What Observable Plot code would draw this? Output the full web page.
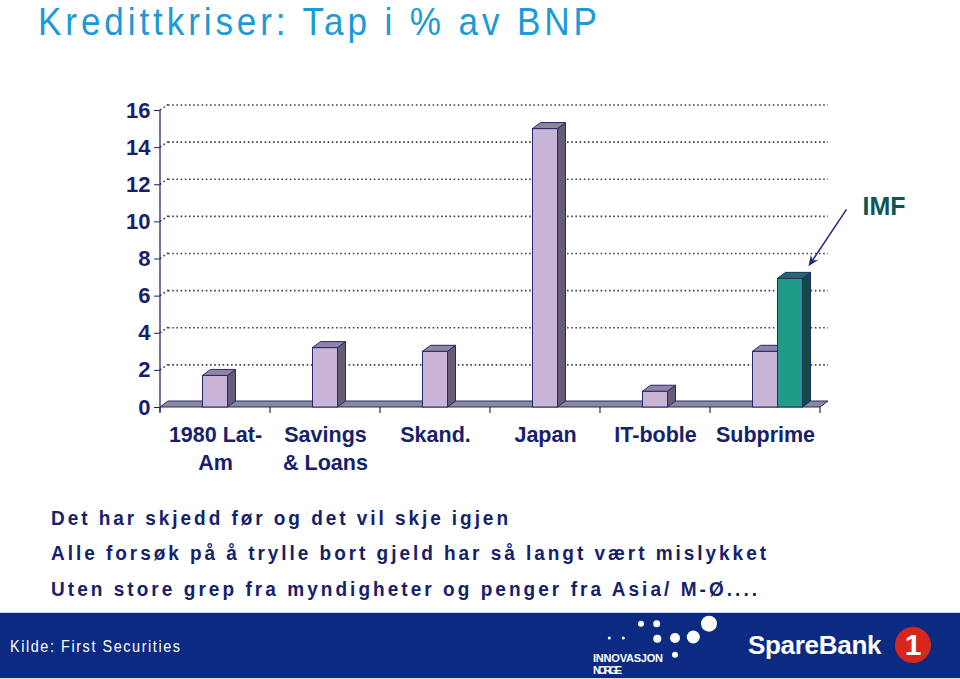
<!DOCTYPE html>
<html><head><meta charset="utf-8">
<script src="https://cdn.jsdelivr.net/npm/d3@7"></script>
<script src="https://cdn.jsdelivr.net/npm/@observablehq/plot@0.6"></script>
<style>
html,body{margin:0;padding:0;background:#fff;}
body{position:relative;width:960px;height:679px;overflow:hidden;font-family:"Liberation Sans",Arial,Helvetica,sans-serif;}
#chart{position:absolute;left:0;top:0;}
.cond{position:absolute;white-space:nowrap;transform-origin:0 50%;}
#title{left:38px;top:0px;font-size:39px;line-height:normal;color:#1a9ad7;}
.note{left:51px;font-size:20px;font-weight:bold;color:#15216c;line-height:24px;}
#footer{position:absolute;left:0;top:612px;width:960px;height:65px;background:#0b2b82;border-top:1px solid #c9d3e6;border-bottom:1px solid #d5dcea;}
#kilde{left:10px;top:24px;color:#fff;font-size:16px;line-height:20px;}
#sb{position:absolute;left:748px;top:17px;color:#fff;font-size:26px;font-weight:bold;line-height:30px;letter-spacing:-0.3px;}
#sb1{position:absolute;left:895px;top:14px;width:36px;height:36px;border-radius:50%;background:#d9261c;color:#fff;font-weight:bold;font-size:30px;line-height:36px;text-align:center;}
</style></head><body>
<div id="chart"></div>
<div id="title" class="cond">Kredittkriser: Tap i % av BNP</div>
<div id="n1" class="cond note" style="top:506px">Det har skjedd før og det vil skje igjen</div>
<div id="n2" class="cond note" style="top:541px">Alle forsøk på å trylle bort gjeld har så langt vært mislykket</div>
<div id="n3" class="cond note" style="top:577px">Uten store grep fra myndigheter og penger fra Asia/ M-Ø....</div>
<div id="footer">
  <div id="kilde" class="cond">Kilde: First Securities</div>
  <svg width="140" height="65" style="position:absolute;left:590px;top:0">
    <g fill="#fff">
      <circle cx="19.3" cy="25" r="1.5"/><circle cx="33.3" cy="25" r="1.5"/>
      <circle cx="51" cy="10.7" r="3"/><circle cx="66.7" cy="10.7" r="3.5"/>
      <circle cx="67.3" cy="25.7" r="4"/><circle cx="85" cy="25" r="5"/>
      <circle cx="103.3" cy="24" r="6.5"/><circle cx="119" cy="10.7" r="8"/>
      <circle cx="85" cy="41.7" r="3"/>
      <text x="3" y="49" font-size="11" font-weight="bold" textLength="70" font-family="Liberation Sans, Arial">INNOVASJON</text>
      <text x="3" y="61" font-size="11" font-weight="bold" textLength="29" font-family="Liberation Sans, Arial">NORGE</text>
    </g>
  </svg>
  <div id="sb">SpareBank</div>
  <div id="sb1">1</div>
</div>
<script>
// ---- data ----
const categories = ["1980 Lat-Am", "Savings & Loans", "Skand.", "Japan", "IT-boble", "Subprime"];
const categoryLabels = ["1980 Lat-\nAm", "Savings\n& Loans", "Skand.", "Japan", "IT-boble", "Subprime"];
const lossValues = [1.7, 3.2, 3.0, 15.0, 0.85, 3.0];
const imfCategory = ["Subprime"];
const imfValues = [6.93];
const yTicks = [0, 2, 4, 6, 8, 10, 12, 14, 16];
const imfLabel = ["IMF"];

// ---- tables ----
const lossRows = categories.map((c, i) => ({category: c, value: lossValues[i]}));
const imfRows = imfCategory.map((c, i) => ({category: c, value: imfValues[i]}));
const labelRows = categories.map((c, i) => ({category: c, label: categoryLabels[i]}));

const NAVY = "#15216c";
const EDGE = "#27296e";
const DX = 8, DY = -6, GY = -5.5;
const BAR_W = 25;
const BAND = (960 - 160 - 140) / categories.length;
const inset = (BAND - BAR_W) / 2;

function poly(g, pts, fill) {
  g.append("polygon")
    .attr("points", pts.map(p => p.join(",")).join(" "))
    .attr("fill", fill).attr("stroke", EDGE).attr("stroke-width", 1)
    .attr("stroke-linejoin", "round");
}

function barFaces(rows, offset, sideFill, topFill) {
  return (index, scales) => {
    const {x, y} = scales;
    const bw = x.bandwidth();
    const g = d3.create("svg:g");
    rows.forEach(r => {
      const xl = x(r.category) + (bw - BAR_W) / 2 + offset, xr = xl + BAR_W;
      const yt = y(r.value), y0 = y(0);
      poly(g, [[xr, y0], [xr, yt], [xr + DX, yt + DY], [xr + DX, y0 + DY]], sideFill);
      poly(g, [[xl, yt], [xr, yt], [xr + DX, yt + DY], [xl + DX, yt + DY]], topFill);
    });
    return g.node();
  };
}

const frameMark = (index, scales) => {
  const {x, y} = scales;
  const g = d3.create("svg:g");
  const [xa, xb] = x.range();
  const y0 = y(0), yTop = y(d3.max(yTicks));
  yTicks.filter(t => t > 0).forEach(t => {
    g.append("line").attr("x1", xa).attr("y1", y(t)).attr("x2", xa + DX).attr("y2", y(t) + GY)
      .attr("stroke", "#3a3f5e").attr("stroke-width", 1.6).attr("stroke-dasharray", "1.6,2.6");
  });
  poly(g, [[xa, y0], [xb, y0], [xb + DX, y0 + DY], [xa + DX, y0 + DY]], "#8b8a9b");
  g.append("line").attr("x1", xa).attr("x2", xa).attr("y1", yTop).attr("y2", y0 + 5)
    .attr("stroke", EDGE).attr("stroke-width", 1.3);
  const bounds = x.domain().map(c => x(c)).concat([xb]);
  bounds.forEach(b => {
    g.append("line").attr("x1", b).attr("x2", b).attr("y1", y0).attr("y2", y0 + 6)
      .attr("stroke", EDGE).attr("stroke-width", 1.2);
  });
  return g.node();
};

const arrowMark = (index, scales) => {
  const {x, y} = scales;
  const bw = x.bandwidth();
  const xl = x(imfCategory[0]) + (bw - BAR_W) / 2 + BAR_W, xr = xl + BAR_W;
  const tx = xr + DX - 2, ty = y(imfValues[0]) + DY - 6;
  const sx = tx + 38, sy = ty - 57;
  const len = Math.hypot(tx - sx, ty - sy);
  const ux = (tx - sx) / len, uy = (ty - sy) / len;
  const nx = -uy, ny = ux;
  const L = 11, W = 4.5;
  const g = d3.create("svg:g");
  g.append("line").attr("x1", sx).attr("y1", sy).attr("x2", tx - ux * 6).attr("y2", ty - uy * 6)
    .attr("stroke", "#1d2878").attr("stroke-width", 1.5);
  g.append("polygon").attr("points", [
    [tx, ty], [tx - L * ux + W * nx, ty - L * uy + W * ny],
    [tx - L * 0.65 * ux, ty - L * 0.65 * uy], [tx - L * ux - W * nx, ty - L * uy - W * ny]
  ].map(p => p.join(",")).join(" ")).attr("fill", "#1d2878");
  return g.node();
};

const chart = Plot.plot({
  width: 960,
  height: 490,
  marginLeft: 160,
  marginRight: 140,
  marginTop: 110,
  marginBottom: 83,
  style: {background: "transparent", fontFamily: "'Liberation Sans', Arial, Helvetica, sans-serif",
          fontSize: "22px", fontWeight: "bold", color: NAVY, overflow: "visible"},
  x: {domain: categories, padding: 0, axis: null},
  y: {domain: [0, 16], ticks: yTicks, tickSize: 6, tickPadding: 4, label: null},
  marks: [
    Plot.ruleY(yTicks.filter(t => t > 0), {dx: DX, dy: GY, stroke: "#3a3f5e", strokeWidth: 1.6, strokeDasharray: "1.6,2.6"}),
    frameMark,
    Plot.barY(lossRows, {x: "category", y: "value", fill: "#c8b4d6", stroke: EDGE, strokeWidth: 1, insetLeft: inset, insetRight: inset}),
    barFaces(lossRows, 0, "#655d78", "#8f84a6"),
    Plot.barY(imfRows, {x: "category", y: "value", fill: "#1f9c88", stroke: EDGE, strokeWidth: 1, insetLeft: inset + BAR_W, insetRight: inset - BAR_W}),
    barFaces(imfRows, BAR_W, "#0f4c44", "#1c6f67"),
    arrowMark,
    Plot.text(labelRows, {x: "category", text: "label", frameAnchor: "bottom", lineAnchor: "top", dy: 14, lineHeight: 1.33, fill: NAVY, fontSize: 21.5}),
    Plot.text(imfLabel, {text: d => d, frameAnchor: "top-right", textAnchor: "start", dx: 42, dy: 87, fill: "#0d5654", fontSize: 25})
  ]
});
document.getElementById("chart").appendChild(chart);

// fit text blocks to the reference widths (layout only)
function fit(id, target, s) {
  const el = document.getElementById(id);
  el.style.letterSpacing = "0px";
  el.style.transform = "none";
  const n = el.textContent.length;
  const w = el.getBoundingClientRect().width;
  const ls = (target / s - w) / (n - 1);
  el.style.letterSpacing = ls + "px";
  el.style.transform = `scaleX(${s})`;
}
fit("title", 559, 0.9);
fit("n1", 457, 0.95);
fit("n2", 715, 0.95);
fit("n3", 706, 0.95);
fit("kilde", 170, 0.9);
</script>
</body></html>
